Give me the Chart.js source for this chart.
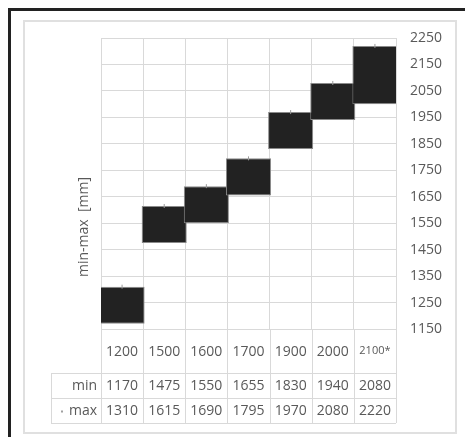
<!DOCTYPE html>
<html>
<head>
<meta charset="utf-8">
<script src="https://cdn.jsdelivr.net/npm/chart.js@4/dist/chart.umd.min.js"></script>
<style>
  html, body { margin: 0; padding: 0; background: #ffffff; overflow: hidden; }
  #outer { position: absolute; left: 8px; top: 8px; width: 600px; height: 600px;
           border-left: 3px solid #222222; border-top: 3px solid #222222; }
  #inner { position: absolute; left: 23px; top: 20px; width: 430px; height: 410px;
           border: 2px solid #e0e0e0; }
  #c { position: absolute; left: 0; top: 0; }
</style>
</head>
<body>
<div id="outer"></div>
<div id="inner"></div>
<canvas id="c" width="465" height="437"></canvas>
<script>
// ---- data ----
const categories = ['1200', '1500', '1600', '1700', '1900', '2000', '2100*'];
const minVals = [1170, 1475, 1550, 1655, 1830, 1940, 2080];   // table row "min"
const maxVals = [1310, 1615, 1690, 1795, 1970, 2080, 2220];   // table row "max"
const barLow  = [1170, 1475, 1550, 1655, 1830, 1940, 2000];   // bar bottoms as drawn
const rowLabels = ['min', 'max'];
const yTitle = 'min-max  [mm]';

const FONT = "'Open Sans', 'DejaVu Sans', sans-serif";
const TEXT = '#595959';
const GRID = '#d9d9d9';

const tablePlugin = {
  id: 'tablePlugin',
  afterDraw(chart) {
    const ctx = chart.ctx;
    const x = chart.scales.x;
    const area = chart.chartArea;
    const n = categories.length;
    const step = (x.getPixelForValue(1) - x.getPixelForValue(0));
    const rowTop = area.bottom + 44;
    const rowH = 25;
    const tableLeft = 51;
    ctx.save();
    ctx.strokeStyle = GRID;
    ctx.lineWidth = 1;
    for (let i = 0; i <= n; i++) {
      const px = Math.round(x.getPixelForValue(i) - step / 2) + 0.5;
      ctx.beginPath();
      ctx.moveTo(px, area.bottom);
      ctx.lineTo(px, rowTop + 2 * rowH);
      ctx.stroke();
    }
    ctx.beginPath();
    ctx.moveTo(tableLeft + 0.5, rowTop);
    ctx.lineTo(tableLeft + 0.5, rowTop + 2 * rowH);
    ctx.stroke();
    for (let r = 0; r <= 2; r++) {
      const py = rowTop + r * rowH + 0.5;
      ctx.beginPath();
      ctx.moveTo(tableLeft, py);
      ctx.lineTo(area.right, py);
      ctx.stroke();
    }
    ctx.fillStyle = TEXT;
    ctx.font = '14px ' + FONT;
    ctx.textBaseline = 'middle';
    const rows = [minVals, maxVals];
    rows.forEach((vals, r) => {
      const cy = rowTop + r * rowH + rowH / 2 + 0.5;
      ctx.textAlign = 'right';
      ctx.fillText(rowLabels[r], 97, cy);
      ctx.textAlign = 'center';
      vals.forEach((v, i) => ctx.fillText(String(v), x.getPixelForValue(i), cy));
    });
    ctx.fillStyle = '#a0a0a0';
    ctx.fillRect(61, rowTop + rowH + rowH / 2, 2, 2);
    ctx.fillStyle = TEXT;
    ctx.font = '14px ' + FONT;
    ctx.translate(84, 227);
    ctx.rotate(-Math.PI / 2);
    ctx.textAlign = 'center';
    ctx.textBaseline = 'middle';
    ctx.fillText(yTitle, 0, 0);
    ctx.restore();
  }
};

new Chart(document.getElementById('c'), {
  type: 'bar',
  data: {
    labels: categories,
    datasets: [
      {
        type: 'bar',
        data: barLow.map((lo, i) => [lo, maxVals[i]]),
        backgroundColor: '#222222',
        borderColor: '#8a8a8a',
        borderWidth: 1,
        borderSkipped: false,
        categoryPercentage: 1,
        barPercentage: 1.07,
        order: 2
      },
      {
        type: 'line',
        data: maxVals,
        showLine: false,
        pointStyle: 'line',
        rotation: 90,
        radius: 2,
        pointBorderColor: '#9a9a9a',
        pointBorderWidth: 1,
        order: 1
      }
    ]
  },
  options: {
    responsive: false,
    animation: false,
    devicePixelRatio: 1,
    layout: { padding: { left: 101, top: 38, right: 0, bottom: 0 } },
    plugins: { legend: { display: false }, tooltip: { enabled: false } },
    scales: {
      x: {
        offset: true,
        grid: { color: GRID, drawTicks: false, offset: true },
        border: { color: GRID },
        afterFit: s => { s.height = 108; },
        ticks: {
          color: TEXT,
          padding: 15,
          maxRotation: 0,
          autoSkip: false,
          font: c => ({ family: FONT, size: c.index === 6 ? 11 : 14 })
        }
      },
      y: {
        position: 'right',
        min: 1150,
        max: 2250,
        afterFit: s => { s.width = 69; },
        grid: { color: GRID, drawTicks: false },
        border: { color: GRID },
        ticks: {
          stepSize: 100,
          padding: 14,
          color: TEXT,
          font: { family: FONT, size: 14 },
          callback: v => String(v)
        }
      }
    }
  },
  plugins: [tablePlugin]
});
</script>
</body>
</html>
